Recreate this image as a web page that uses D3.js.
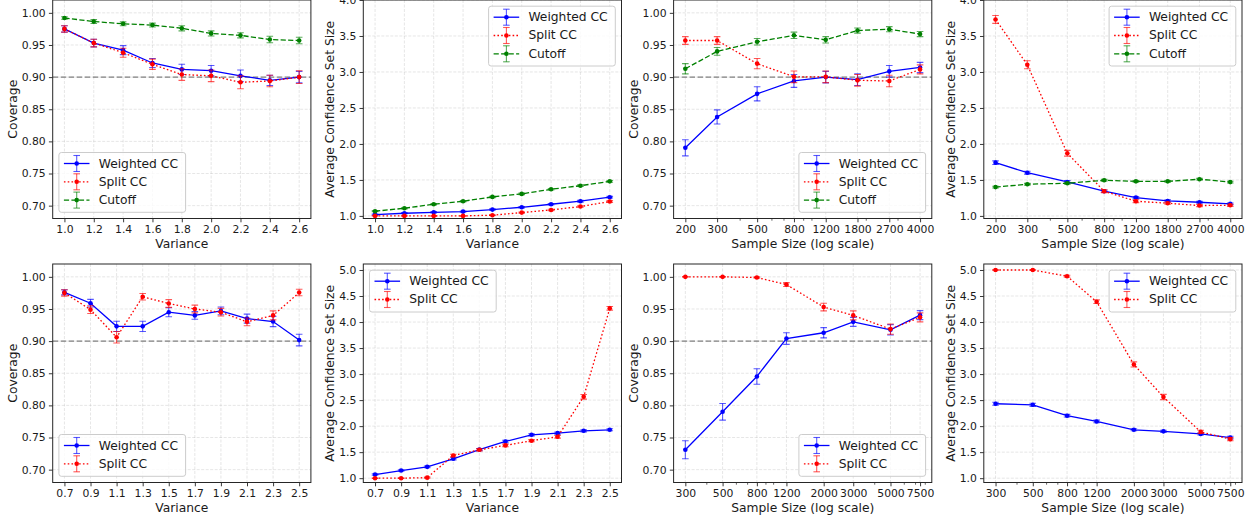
<!DOCTYPE html>
<html><head><meta charset="utf-8">
<script src="https://cdn.jsdelivr.net/npm/d3@7"></script>
<style>
body{margin:0;background:#fff}
svg{display:block}
text{font-family:"DejaVu Sans",sans-serif;fill:#1a1a1a}
</style>
</head><body>
<svg id="c" width="1250" height="521"></svg>
<script>
// ---------------- DATA ----------------
const varianceA = [1.0, 1.2, 1.4, 1.6, 1.8, 2.0, 2.2, 2.4, 2.6];
const varianceB = [0.7, 0.9, 1.1, 1.3, 1.5, 1.7, 1.9, 2.1, 2.3, 2.5];
const sampleA = [200, 300, 500, 800, 1200, 1800, 2700, 4000];
const sampleB = [300, 500, 800, 1200, 2000, 3000, 5000, 7500];

const coverageTicks = [0.70, 0.75, 0.80, 0.85, 0.90, 0.95, 1.00];
const sizeTicksTop = [1.0, 1.5, 2.0, 2.5, 3.0, 3.5, 4.0];
const sizeTicksBottom = [1.0, 1.5, 2.0, 2.5, 3.0, 3.5, 4.0, 4.5, 5.0];
const seriesNames = ["Weighted CC", "Split CC", "Cutoff"];
const targetCoverage = 0.90;

// Panel 1: coverage vs variance
const p1WeightedCov = [0.975, 0.953, 0.942, 0.922, 0.912, 0.910, 0.902, 0.895, 0.900];
const p1WeightedErr = [0.005, 0.006, 0.007, 0.007, 0.008, 0.008, 0.009, 0.008, 0.009];
const p1SplitCov    = [0.975, 0.953, 0.938, 0.920, 0.904, 0.902, 0.892, 0.894, 0.900];
const p1SplitErr    = [0.005, 0.006, 0.007, 0.008, 0.009, 0.009, 0.010, 0.009, 0.010];
const p1CutoffCov   = [0.992, 0.9865, 0.983, 0.981, 0.976, 0.968, 0.965, 0.9585, 0.957];
const p1CutoffErr   = [0.002, 0.003, 0.003, 0.003, 0.004, 0.004, 0.004, 0.005, 0.005];

// Panel 2: set size vs variance
const p2WeightedSize = [1.019, 1.037, 1.05, 1.06, 1.088, 1.12, 1.162, 1.204, 1.26];
const p2WeightedErr  = [0.008, 0.008, 0.009, 0.009, 0.010, 0.010, 0.011, 0.012, 0.012];
const p2SplitSize    = [1.0, 1.0, 1.0, 1.0, 1.01, 1.046, 1.083, 1.13, 1.2];
const p2SplitErr     = [0.002, 0.002, 0.003, 0.003, 0.005, 0.008, 0.009, 0.010, 0.012];
const p2CutoffSize   = [1.065, 1.106, 1.162, 1.204, 1.264, 1.306, 1.37, 1.42, 1.48];
const p2CutoffErr    = [0.008, 0.008, 0.009, 0.009, 0.010, 0.010, 0.011, 0.011, 0.012];

// Panel 3: coverage vs sample size
const p3WeightedCov = [0.790, 0.838, 0.874, 0.894, 0.900, 0.896, 0.909, 0.915];
const p3WeightedErr = [0.0125, 0.011, 0.011, 0.010, 0.009, 0.009, 0.009, 0.008];
const p3SplitCov    = [0.957, 0.957, 0.921, 0.9005, 0.9005, 0.895, 0.894, 0.912];
const p3SplitErr    = [0.006, 0.006, 0.008, 0.009, 0.009, 0.009, 0.009, 0.007];
const p3CutoffCov   = [0.913, 0.940, 0.955, 0.965, 0.958, 0.9725, 0.9745, 0.967];
const p3CutoffErr   = [0.008, 0.006, 0.005, 0.005, 0.005, 0.004, 0.004, 0.004];

// Panel 4: set size vs sample size
const p4WeightedSize = [1.74, 1.60, 1.472, 1.343, 1.255, 1.208, 1.19, 1.167];
const p4WeightedErr  = [0.025, 0.02, 0.02, 0.015, 0.015, 0.015, 0.012, 0.012];
const p4SplitSize    = [3.73, 3.10, 1.87, 1.343, 1.204, 1.176, 1.144, 1.148];
const p4SplitErr     = [0.055, 0.055, 0.04, 0.02, 0.02, 0.015, 0.015, 0.015];
const p4CutoffSize   = [1.40, 1.44, 1.454, 1.495, 1.48, 1.48, 1.51, 1.47];
const p4CutoffErr    = [0.012, 0.012, 0.012, 0.012, 0.012, 0.012, 0.012, 0.012];

// Panel 5: coverage vs variance
const p5WeightedCov = [0.976, 0.959, 0.923, 0.923, 0.945, 0.940, 0.947, 0.935, 0.9305, 0.9016];
const p5WeightedErr = [0.004, 0.006, 0.008, 0.008, 0.007, 0.006, 0.006, 0.007, 0.008, 0.009];
const p5SplitCov    = [0.975, 0.949, 0.906, 0.969, 0.9585, 0.950, 0.945, 0.930, 0.940, 0.9756];
const p5SplitErr    = [0.005, 0.006, 0.009, 0.005, 0.006, 0.006, 0.006, 0.006, 0.007, 0.005];

// Panel 6: set size vs variance
const p6WeightedSize = [1.07, 1.147, 1.218, 1.372, 1.55, 1.705, 1.833, 1.865, 1.91, 1.93];
const p6WeightedErr  = [0.015, 0.015, 0.015, 0.02, 0.02, 0.025, 0.02, 0.02, 0.02, 0.02];
const p6SplitSize    = [1.0, 1.0, 1.01, 1.436, 1.545, 1.63, 1.72, 1.795, 2.564, 4.263];
const p6SplitErr     = [0.003, 0.003, 0.01, 0.025, 0.02, 0.025, 0.02, 0.025, 0.045, 0.035];

// Panel 7: coverage vs sample size
const p7WeightedCov = [0.731, 0.790, 0.845, 0.904, 0.913, 0.930, 0.9176, 0.9404];
const p7WeightedErr = [0.014, 0.013, 0.012, 0.009, 0.008, 0.007, 0.008, 0.007];
const p7SplitCov    = [1.0, 1.0, 0.999, 0.988, 0.953, 0.940, 0.9187, 0.937];
const p7SplitErr    = [0.0005, 0.0005, 0.001, 0.003, 0.006, 0.007, 0.008, 0.007];

// Panel 8: set size vs sample size
const p8WeightedSize = [2.43, 2.41, 2.20, 2.09, 1.93, 1.90, 1.85, 1.78];
const p8WeightedErr  = [0.03, 0.03, 0.025, 0.025, 0.02, 0.02, 0.02, 0.025];
const p8SplitSize    = [5.0, 5.0, 4.88, 4.39, 3.185, 2.56, 1.89, 1.75];
const p8SplitErr     = [0.003, 0.005, 0.02, 0.035, 0.05, 0.05, 0.03, 0.03];

// ---------------- STYLE ----------------
const svg = d3.select('#c');
const panelLefts = [52.7, 363.3, 673.6, 983.8];
const panelWidth = 258.2;
const rowTops = [0, 264];
const panelHeight = 218.5;
const styles = [
  {color: '#0000ff', dash: null},
  {color: '#ff0000', dash: '1.6,2.2'},
  {color: '#008000', dash: '5.2,2.3'}
];
const TICK_FS = 10.8, LABEL_FS = 12.3;

function mkSeries(xs, vals, errs, idx) {
  return {name: seriesNames[idx], style: styles[idx],
    pts: xs.map((x, i) => ({x, y: vals[i], e: errs[i]}))};
}

let clipId = 0;
function drawPanel(cfg) {
  const x0 = panelLefts[cfg.col], y0 = rowTops[cfg.row];
  const x1 = x0 + panelWidth, y1 = y0 + panelHeight;
  const g = svg.append('g');
  let x;
  if (cfg.log) {
    const a = Math.log10(d3.min(cfg.xs)), b = Math.log10(d3.max(cfg.xs)), m = (b - a) * 0.05;
    x = d3.scaleLog().domain([Math.pow(10, a - m), Math.pow(10, b + m)]).range([x0, x1]);
  } else {
    const a = d3.min(cfg.xs), b = d3.max(cfg.xs), m = (b - a) * 0.05;
    x = d3.scaleLinear().domain([a - m, b + m]).range([x0, x1]);
  }
  const y = d3.scaleLinear().domain(cfg.yDomain).range([y1, y0]);

  // grid
  const grid = g.append('g').attr('stroke', '#b0b0b0').attr('stroke-opacity', 0.4)
    .attr('stroke-width', 0.8).attr('stroke-dasharray', '3,1.5');
  grid.selectAll('.gx').data(cfg.xs).join('line')
    .attr('x1', d => x(d)).attr('x2', d => x(d)).attr('y1', y0).attr('y2', y1);
  grid.selectAll('.gy').data(cfg.yTicks).join('line')
    .attr('y1', d => y(d)).attr('y2', d => y(d)).attr('x1', x0).attr('x2', x1);

  const cid = 'clip' + (clipId++);
  g.append('clipPath').attr('id', cid).append('rect')
    .attr('x', x0).attr('y', y0).attr('width', panelWidth).attr('height', panelHeight);
  const plot = g.append('g').attr('clip-path', `url(#${cid})`);

  if (cfg.ref) {
    plot.append('line').attr('x1', x0).attr('x2', x1)
      .attr('y1', y(targetCoverage)).attr('y2', y(targetCoverage))
      .attr('stroke', '#808080').attr('stroke-width', 1.2).attr('stroke-dasharray', '5.5,2.5');
  }

  const line = d3.line().x(d => x(d.x)).y(d => y(d.y));
  cfg.series.forEach(s => {
    const sg = plot.append('g');
    const eb = sg.append('g').attr('stroke', s.style.color).attr('stroke-opacity', 0.65).attr('stroke-width', 1.1);
    s.pts.forEach(p => {
      const px = x(p.x), ya = y(p.y - p.e), yb = y(p.y + p.e);
      eb.append('line').attr('x1', px).attr('x2', px).attr('y1', ya).attr('y2', yb);
      eb.append('line').attr('x1', px - 3.3).attr('x2', px + 3.3).attr('y1', ya).attr('y2', ya);
      eb.append('line').attr('x1', px - 3.3).attr('x2', px + 3.3).attr('y1', yb).attr('y2', yb);
    });
    sg.append('path').attr('d', line(s.pts)).attr('fill', 'none')
      .attr('stroke', s.style.color).attr('stroke-width', 1.3)
      .attr('stroke-dasharray', s.style.dash);
    sg.selectAll('circle').data(s.pts).join('circle')
      .attr('cx', d => x(d.x)).attr('cy', d => y(d.y)).attr('r', 2.3)
      .attr('fill', s.style.color);
  });

  // axes
  const xAxis = d3.axisBottom(x).tickValues(cfg.xs)
    .tickFormat(cfg.log ? d3.format('d') : d3.format('.1f')).tickSize(3.8).tickPadding(3.5);
  const xa = g.append('g').attr('transform', `translate(0,${y1})`).call(xAxis);
  if (cfg.log) {
    const dom = x.domain();
    const minor = [];
    for (let dec = 100; dec <= 10000; dec *= 10)
      for (let k = 1; k <= 9; k++) {
        const v = k * dec;
        if (v >= dom[0] && v <= dom[1] && !cfg.xs.includes(v)) minor.push(v);
      }
    g.append('g').attr('transform', `translate(0,${y1})`)
      .call(d3.axisBottom(x).tickValues(minor).tickFormat('').tickSize(2.2))
      .call(a => a.select('.domain').remove())
      .selectAll('line').attr('stroke', '#222').attr('stroke-width', 0.7);
  }
  const yAxis = d3.axisLeft(y).tickValues(cfg.yTicks)
    .tickFormat(d3.format(cfg.yFmt)).tickSize(3.8).tickPadding(3.2);
  const ya = g.append('g').attr('transform', `translate(${x0},0)`).call(yAxis);
  [xa, ya].forEach(a => {
    a.select('.domain').remove();
    a.selectAll('text').attr('font-size', TICK_FS).attr('font-family', '"DejaVu Sans",sans-serif').attr('fill', '#1a1a1a');
    a.selectAll('line').attr('stroke', '#222').attr('stroke-width', 0.9);
  });

  // spines
  g.append('rect').attr('x', x0).attr('y', y0).attr('width', panelWidth).attr('height', panelHeight)
    .attr('fill', 'none').attr('stroke', '#262626').attr('stroke-width', 1);

  // labels
  g.append('text').attr('x', (x0 + x1) / 2).attr('y', y1 + 29).attr('text-anchor', 'middle')
    .attr('font-size', LABEL_FS).text(cfg.xlabel);
  const ly = (y0 + y1) / 2, lx = x0 - cfg.ylabOff;
  g.append('text').attr('transform', `translate(${lx},${ly}) rotate(-90)`)
    .attr('text-anchor', 'middle').attr('dominant-baseline', 'central')
    .attr('font-size', LABEL_FS).text(cfg.ylabel);

  // legend
  const n = cfg.series.length, lw = 126.7, lh = 5.8 + 18 * n, pad = 6.2;
  let lxp = cfg.legend.includes('left') ? x0 + pad : x1 - pad - lw;
  let lyp = cfg.legend.includes('upper') ? y0 + pad : y1 - pad - lh;
  const lg = g.append('g').attr('transform', `translate(${lxp},${lyp})`);
  lg.append('rect').attr('width', lw).attr('height', lh).attr('rx', 2.5)
    .attr('fill', '#fff').attr('fill-opacity', 0.8).attr('stroke', '#cccccc').attr('stroke-width', 1);
  cfg.series.forEach((s, i) => {
    const cy = 11 + i * 18.3, cx = 17.8;
    const c = s.style.color;
    const e = lg.append('g').attr('stroke', c).attr('stroke-opacity', 0.65).attr('stroke-width', 1.1);
    e.append('line').attr('x1', cx).attr('x2', cx).attr('y1', cy - 8).attr('y2', cy + 8);
    e.append('line').attr('x1', cx - 3.3).attr('x2', cx + 3.3).attr('y1', cy - 8).attr('y2', cy - 8);
    e.append('line').attr('x1', cx - 3.3).attr('x2', cx + 3.3).attr('y1', cy + 8).attr('y2', cy + 8);
    lg.append('line').attr('x1', 5).attr('x2', 30.6).attr('y1', cy).attr('y2', cy)
      .attr('stroke', c).attr('stroke-width', 1.3).attr('stroke-dasharray', s.style.dash);
    lg.append('circle').attr('cx', cx).attr('cy', cy).attr('r', 2.3).attr('fill', c);
    lg.append('text').attr('x', 39.8).attr('y', cy).attr('dominant-baseline', 'central')
      .attr('font-size', LABEL_FS).text(s.name);
  });
}

const covDom = [0.68, 1.02];
const sizeDomTop = [0.964, 4.0];
const sizeDomBottom = [0.917, 5.115];

drawPanel({row: 0, col: 0, xs: varianceA, log: false, yDomain: covDom, yTicks: coverageTicks, yFmt: '.2f',
  xlabel: 'Variance', ylabel: 'Coverage', ylabOff: 40, ref: true, legend: 'lower left',
  series: [mkSeries(varianceA, p1WeightedCov, p1WeightedErr, 0), mkSeries(varianceA, p1SplitCov, p1SplitErr, 1), mkSeries(varianceA, p1CutoffCov, p1CutoffErr, 2)]});
drawPanel({row: 0, col: 1, xs: varianceA, log: false, yDomain: sizeDomTop, yTicks: sizeTicksTop, yFmt: '.1f',
  xlabel: 'Variance', ylabel: 'Average Confidence Set Size', ylabOff: 33, ref: false, legend: 'upper right',
  series: [mkSeries(varianceA, p2WeightedSize, p2WeightedErr, 0), mkSeries(varianceA, p2SplitSize, p2SplitErr, 1), mkSeries(varianceA, p2CutoffSize, p2CutoffErr, 2)]});
drawPanel({row: 0, col: 2, xs: sampleA, log: true, yDomain: covDom, yTicks: coverageTicks, yFmt: '.2f',
  xlabel: 'Sample Size (log scale)', ylabel: 'Coverage', ylabOff: 40, ref: true, legend: 'lower right',
  series: [mkSeries(sampleA, p3WeightedCov, p3WeightedErr, 0), mkSeries(sampleA, p3SplitCov, p3SplitErr, 1), mkSeries(sampleA, p3CutoffCov, p3CutoffErr, 2)]});
drawPanel({row: 0, col: 3, xs: sampleA, log: true, yDomain: sizeDomTop, yTicks: sizeTicksTop, yFmt: '.1f',
  xlabel: 'Sample Size (log scale)', ylabel: 'Average Confidence Set Size', ylabOff: 33, ref: false, legend: 'upper right',
  series: [mkSeries(sampleA, p4WeightedSize, p4WeightedErr, 0), mkSeries(sampleA, p4SplitSize, p4SplitErr, 1), mkSeries(sampleA, p4CutoffSize, p4CutoffErr, 2)]});
drawPanel({row: 1, col: 0, xs: varianceB, log: false, yDomain: covDom, yTicks: coverageTicks, yFmt: '.2f',
  xlabel: 'Variance', ylabel: 'Coverage', ylabOff: 40, ref: true, legend: 'lower left',
  series: [mkSeries(varianceB, p5WeightedCov, p5WeightedErr, 0), mkSeries(varianceB, p5SplitCov, p5SplitErr, 1)]});
drawPanel({row: 1, col: 1, xs: varianceB, log: false, yDomain: sizeDomBottom, yTicks: sizeTicksBottom, yFmt: '.1f',
  xlabel: 'Variance', ylabel: 'Average Confidence Set Size', ylabOff: 33, ref: false, legend: 'upper left',
  series: [mkSeries(varianceB, p6WeightedSize, p6WeightedErr, 0), mkSeries(varianceB, p6SplitSize, p6SplitErr, 1)]});
drawPanel({row: 1, col: 2, xs: sampleB, log: true, yDomain: covDom, yTicks: coverageTicks, yFmt: '.2f',
  xlabel: 'Sample Size (log scale)', ylabel: 'Coverage', ylabOff: 40, ref: true, legend: 'lower right',
  series: [mkSeries(sampleB, p7WeightedCov, p7WeightedErr, 0), mkSeries(sampleB, p7SplitCov, p7SplitErr, 1)]});
drawPanel({row: 1, col: 3, xs: sampleB, log: true, yDomain: sizeDomBottom, yTicks: sizeTicksBottom, yFmt: '.1f',
  xlabel: 'Sample Size (log scale)', ylabel: 'Average Confidence Set Size', ylabOff: 33, ref: false, legend: 'upper right',
  series: [mkSeries(sampleB, p8WeightedSize, p8WeightedErr, 0), mkSeries(sampleB, p8SplitSize, p8SplitErr, 1)]});
</script>
</body></html>
